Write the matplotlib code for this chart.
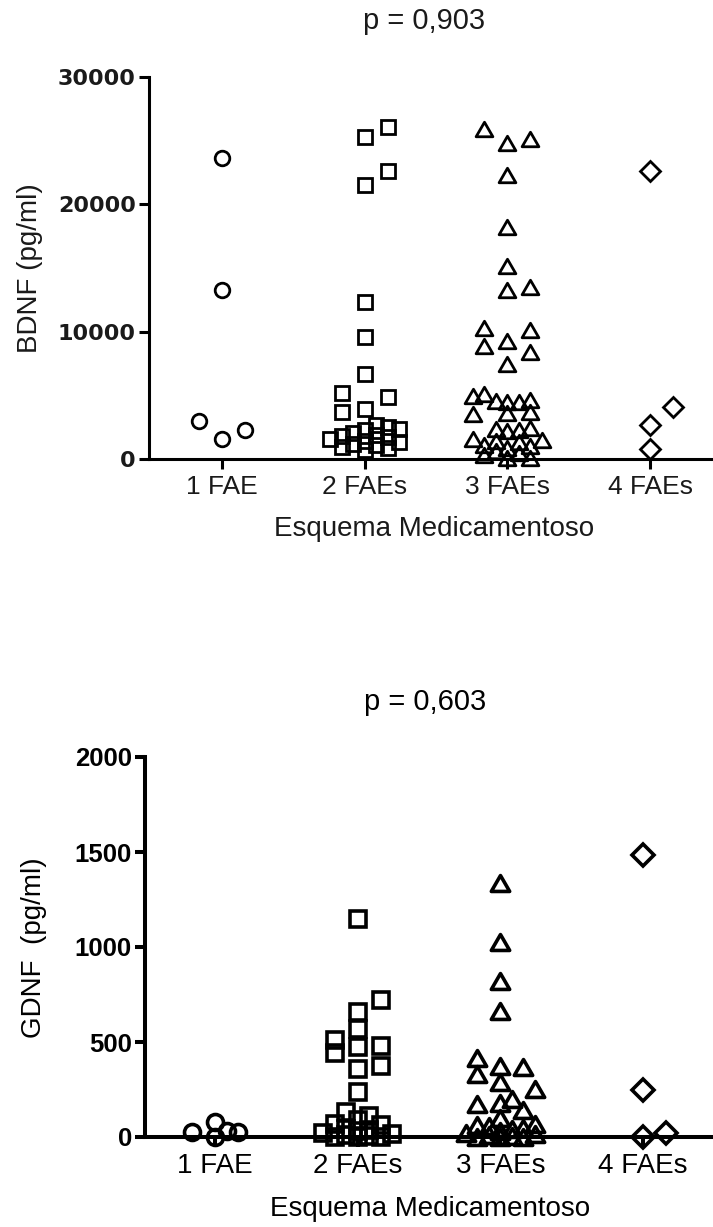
"""BDNF / GDNF by drug regimen — two GraphPad-style dot plots stacked."""
import numpy as np
import matplotlib
matplotlib.use("Agg")
import matplotlib.pyplot as plt
from matplotlib.path import Path

W, H, DPI = 713, 1227, 100

groups = ["1 FAE", "2 FAEs", "3 FAEs", "4 FAEs"]

# BDNF (pg/ml)
bdnf_1fae = [23600, 13300, 3000, 1600, 2300]
bdnf_2faes = [26100, 25250, 22600, 21500, 12300, 9550, 6650, 5200, 4900, 3950, 3700,
              2700, 2550, 2350, 2250, 2050, 1900, 1800, 1700, 1550, 1450, 1300,
              1200, 1100, 950, 850, 700]
bdnf_3faes = [25900, 24800, 25100, 22300, 18200, 15150, 13500, 13300, 10300, 10100,
              9300, 8850, 8400, 7450, 5100, 4950, 4600, 4550, 4500, 4450, 3700, 3650,
              3500, 2400, 2350, 2300, 2200, 1600, 1500, 1400, 1300, 1100, 1000, 900,
              650, 500, 300, 100, 50]
bdnf_4faes = [22600, 4100, 2700, 800]
bdnf_p = "p = 0,903"

# GDNF (pg/ml)
gdnf_1fae = [80, 25, 0, 30, 25]
gdnf_2faes = [1150, 720, 660, 570, 510, 475, 440, 480, 375, 360, 235,
              130, 110, 90, 70, 65, 40, 35, 30, 20, 15, 10, 5, 0, 0, 0]
gdnf_3faes = [1335, 1025, 820, 665, 415, 375, 370, 330, 290, 255, 200, 180, 175,
              140, 100, 70, 65, 60, 50, 40, 30, 20, 15, 10, 5, 0, 0, 0]
gdnf_4faes = [1485, 245, 0, 20]
gdnf_p = "p = 0,603"

TRI = Path([(-1, -0.866), (1, -0.866), (0, 0.866), (-1, -0.866)],
           [Path.MOVETO, Path.LINETO, Path.LINETO, Path.CLOSEPOLY])
MARKERS = ["o", "s", TRI, "D"]
MS_SCALE = [1.0, 0.95, 1.15, 0.95]


def swarm(values, unit_px, w_px, h_px, step_px, kmax):
    """Beeswarm offsets in px: low values first, nearest free slot to the centre."""
    vals = np.asarray(values, float)
    cands = [0]
    for k in range(1, kmax + 1):
        cands += [k, -k]
    placed, offs = [], np.zeros(len(vals))
    for i in np.argsort(vals, kind="stable"):
        y = vals[i] * unit_px
        x = 0.0
        for tol in (1.0, 0.75, 0.5, 0.25):
            ok = False
            for c in cands:
                cx = c * step_px
                if all(abs(cx - px) >= w_px * tol or abs(y - py) >= h_px * tol
                       for px, py in placed):
                    x, ok = cx, True
                    break
            if ok:
                break
        placed.append((x, y))
        offs[i] = x
    return offs


def panel(ax, data, ymax, yticks, cat_px, unit_px, ms, mew, w_px, h_px, kmax,
          lw, tick_font, tick_size, xt_size, color):
    for i, vals in enumerate(data):
        offs = swarm(vals, unit_px, w_px, h_px, 11.5, kmax) / cat_px
        ax.plot(i + offs, vals, ls="none", marker=MARKERS[i], ms=ms * MS_SCALE[i],
                mew=mew, mfc="none", mec="black", clip_on=False, zorder=3)
    ax.set_ylim(0, ymax)
    ax.set_yticks(yticks)
    ax.set_yticklabels([str(t) for t in yticks], fontfamily=tick_font,
                       fontweight="bold", fontsize=tick_size, color=color)
    ax.set_xticks(range(len(groups)))
    ax.set_xticklabels(groups, fontsize=xt_size, color=color)
    for s in ("top", "right"):
        ax.spines[s].set_visible(False)
    for s in ("left", "bottom"):
        ax.spines[s].set_linewidth(lw)
    ax.tick_params(axis="both", width=lw, length=7.5, color="black")
    ax.tick_params(axis="x", pad=4)
    ax.tick_params(axis="y", pad=2)
    ax.patch.set_alpha(0)


plt.rcParams["font.family"] = ["Liberation Sans", "DejaVu Sans"]
fig = plt.figure(figsize=(W / DPI, H / DPI), dpi=DPI)

# top panel: y axis at x=149px, 0 at y=459px, 30000 at y=77px, groups 142.7px apart
cat = 142.7
ax1 = fig.add_axes([149 / W, 1 - 459 / H, (W - 149) / W, (459 - 77) / H])
ax1.set_xlim(-(222 - 149) / cat, (W - 222) / cat)
panel(ax1, [bdnf_1fae, bdnf_2faes, bdnf_3faes, bdnf_4faes], 30000,
      [0, 10000, 20000, 30000], cat, 382 / 30000, ms=10.5, mew=2.0,
      w_px=16, h_px=19, kmax=3, lw=2.2, tick_font="DejaVu Sans",
      tick_size=16, xt_size=19, color="#1a1a1a")
fig.text(424 / W, 1 - 21 / H, bdnf_p, ha="center", va="center", fontsize=21,
         color="#1a1a1a")
fig.text(434 / W, 1 - 529 / H, "Esquema Medicamentoso", ha="center",
         va="center", fontsize=20, color="#1a1a1a")
fig.text(30 / W, 1 - 268 / H, "BDNF (pg/ml)", ha="center", va="center",
         rotation=90, fontsize=20, color="#1a1a1a")

# bottom panel: y axis at x=145px, 0 at y=1137px, 2000 at y=757px
ax2 = fig.add_axes([145 / W, 1 - 1137 / H, (W - 145) / W, (1137 - 757) / H])
ax2.set_xlim(-(215 - 145) / cat, (W - 215) / cat)
panel(ax2, [gdnf_1fae, gdnf_2faes, gdnf_3faes, gdnf_4faes], 2000,
      [0, 500, 1000, 1500, 2000], cat, 380 / 2000, ms=11.5, mew=2.6,
      w_px=16, h_px=17, kmax=3, lw=2.9, tick_font="Liberation Sans",
      tick_size=18.5, xt_size=20, color="black")
fig.text(425 / W, 1 - 702 / H, gdnf_p, ha="center", va="center", fontsize=21)
fig.text(430 / W, 1 - 1209 / H, "Esquema Medicamentoso", ha="center",
         va="center", fontsize=20)
fig.text(34 / W, 1 - 948 / H, "GDNF  (pg/ml)", ha="center", va="center",
         rotation=90, fontsize=20)

fig.savefig("out.png", dpi=DPI)
